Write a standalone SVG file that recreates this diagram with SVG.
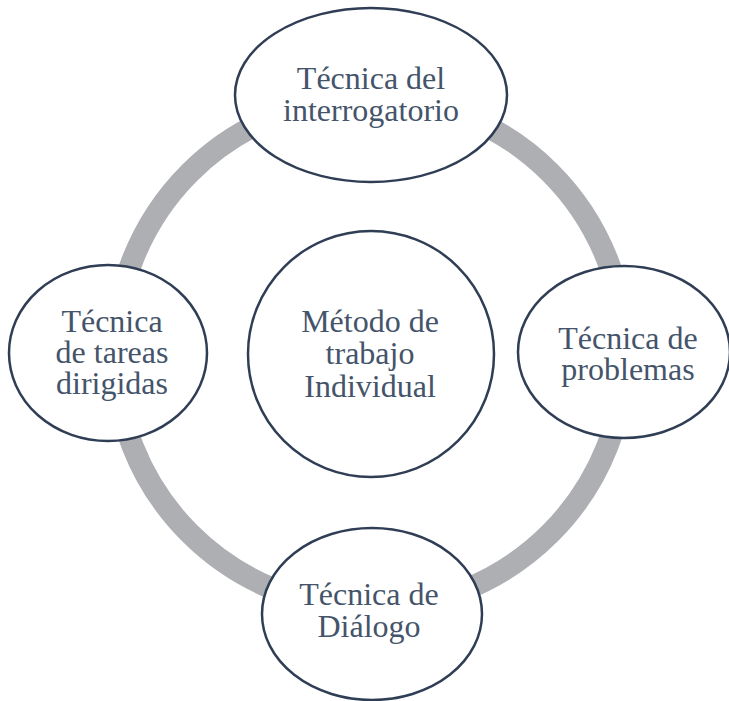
<svg xmlns="http://www.w3.org/2000/svg" width="729" height="701" viewBox="0 0 729 701">
<style>
.node{fill:#ffffff;stroke:#2f3e55;stroke-width:2.5}
.lbl{font-family:"Liberation Serif","Times New Roman",serif;font-size:32px;fill:#44546a;text-anchor:middle}
</style>
<rect width="729" height="701" fill="#ffffff"/>
<g id="connectors">
<circle cx="370" cy="353" r="255" fill="none" stroke="#adafb3" stroke-width="22"/>
</g>
<g id="center">
<circle class="node" cx="371" cy="354" r="123"/>
<text class="lbl" x="370" y="332">Método de</text>
<text class="lbl" x="370" y="364">trabajo</text>
<text class="lbl" x="370" y="397">Individual</text>
</g>
<g id="top">
<ellipse class="node" cx="371" cy="95" rx="136" ry="87"/>
<text class="lbl" x="371" y="89">Técnica del</text>
<text class="lbl" x="371" y="121">interrogatorio</text>
</g>
<g id="left">
<ellipse class="node" cx="108" cy="353" rx="99" ry="88"/>
<text class="lbl" x="112" y="332">Técnica</text>
<text class="lbl" x="112" y="363">de tareas</text>
<text class="lbl" x="112" y="394">dirigidas</text>
</g>
<g id="right">
<ellipse class="node" cx="624" cy="352" rx="106" ry="86"/>
<text class="lbl" x="628" y="349">Técnica de</text>
<text class="lbl" x="628" y="380">problemas</text>
</g>
<g id="bottom">
<ellipse class="node" cx="372" cy="614" rx="110" ry="86"/>
<text class="lbl" x="369" y="605">Técnica de</text>
<text class="lbl" x="369" y="637">Diálogo</text>
</g>
</svg>
